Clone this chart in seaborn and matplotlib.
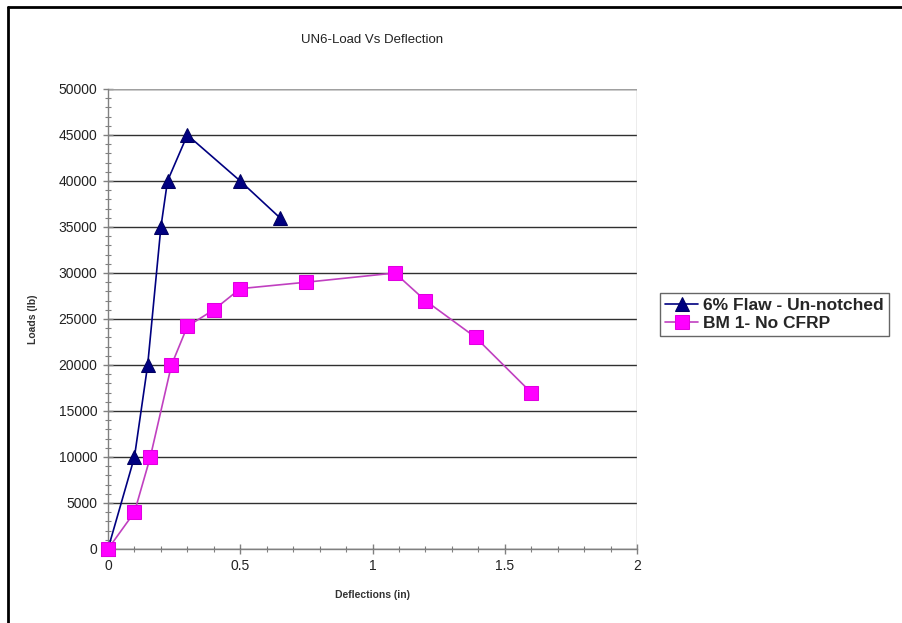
import matplotlib
matplotlib.use("Agg")
import matplotlib.pyplot as plt
from matplotlib.lines import Line2D
from matplotlib.ticker import MultipleLocator
import seaborn as sns
import pandas as pd

# Load-deflection readings for the two beams
flaw_defl = [0.0, 0.1, 0.15, 0.2, 0.225, 0.3, 0.5, 0.65]
flaw_load = [0, 10000, 20000, 35000, 40000, 45000, 40000, 36000]

bm1_defl = [0.0, 0.1, 0.16, 0.24, 0.3, 0.4, 0.5, 0.75, 1.085, 1.2, 1.39, 1.6]
bm1_load = [0, 4000, 10000, 20000, 24200, 26000, 28300, 29000, 30000, 27000, 23000, 17000]

series_names = ["6% Flaw - Un-notched", "BM 1- No CFRP"]
x_ticks = [0, 0.5, 1, 1.5, 2]
y_ticks = list(range(0, 50001, 5000))

sns.set_theme(style="white")
plt.rcParams["font.family"] = ["Liberation Sans", "DejaVu Sans"]

fig = plt.figure(figsize=(9.02, 6.23), dpi=100)
ax = fig.add_axes([108 / 902, 1 - 549 / 623, (637 - 108) / 902, (549 - 89) / 623])

df_flaw = pd.DataFrame({"Deflection": flaw_defl, "Load": flaw_load})
df_bm1 = pd.DataFrame({"Deflection": bm1_defl, "Load": bm1_load})

sns.lineplot(data=df_flaw, x="Deflection", y="Load", ax=ax, sort=False,
             color="#000080", lw=1.2, marker="^", markersize=10,
             markerfacecolor="#000080", markeredgecolor="#000060",
             label=series_names[0], zorder=4, clip_on=False)
sns.lineplot(data=df_bm1, x="Deflection", y="Load", ax=ax, sort=False,
             color="#c040c0", lw=1.2, marker="s", markersize=9.5,
             markerfacecolor="#ff00ff", markeredgecolor="#e000e0",
             label=series_names[1], zorder=5, clip_on=False)

ax.set_xlim(0, 2)
ax.set_ylim(0, 50000)
ax.set_xticks(x_ticks)
ax.set_xticklabels([f"{t:g}" for t in x_ticks])
ax.set_yticks(y_ticks)
ax.set_yticklabels([str(t) for t in y_ticks])
ax.xaxis.set_minor_locator(MultipleLocator(0.1))
ax.yaxis.set_minor_locator(MultipleLocator(1000))

ax.grid(axis="y", which="major", color="#303030", lw=1.0)
ax.set_axisbelow(True)
for side in ["top", "right"]:
    ax.spines[side].set_visible(False)
ax.axhline(50000, color="#a0a0a0", lw=1.0, zorder=1)
ax.axvline(2, color="#a0a0a0", lw=1.0, zorder=1)
for side in ["left", "bottom"]:
    ax.spines[side].set_color("#808080")
    ax.spines[side].set_linewidth(1.0)

ax.tick_params(axis="both", which="major", direction="inout", length=7,
               width=1, color="#808080", labelsize=10, labelcolor="#222222", pad=4)
ax.tick_params(axis="both", which="minor", direction="inout", length=4,
               width=0.8, color="#808080")
ax.tick_params(axis="x", which="both", bottom=True)
ax.tick_params(axis="y", which="both", left=True)

ax.set_xlabel("Deflections (in)", fontsize=7.5, fontweight="bold", color="#333333", labelpad=12)
ax.set_ylabel("Loads (lb)", fontsize=7.5, fontweight="bold", color="#333333", labelpad=15)
fig.text(372 / 902, 1 - 40 / 623, "UN6-Load Vs Deflection", ha="center", va="center",
         fontsize=9.5, color="#222222")

leg = ax.legend(loc="upper left", bbox_to_anchor=(660 / 902, 1 - 293 / 623),
                bbox_transform=fig.transFigure, frameon=True, fancybox=False,
                prop={"weight": "bold", "size": 12.5}, handlelength=1.9,
                handletextpad=0.3, borderpad=0.3, labelspacing=0.15,
                borderaxespad=0)
leg.get_frame().set_edgecolor("#404040")
leg.get_frame().set_linewidth(1.0)

# outer frame lines along the top and left edges of the figure
fig.add_artist(Line2D([8 / 902, 1.0], [1 - 7 / 623, 1 - 7 / 623], color="black", lw=2,
                      transform=fig.transFigure))
fig.add_artist(Line2D([8 / 902, 8 / 902], [0.0, 1 - 7 / 623], color="black", lw=2,
                      transform=fig.transFigure))

fig.savefig("out.png", dpi=100)
